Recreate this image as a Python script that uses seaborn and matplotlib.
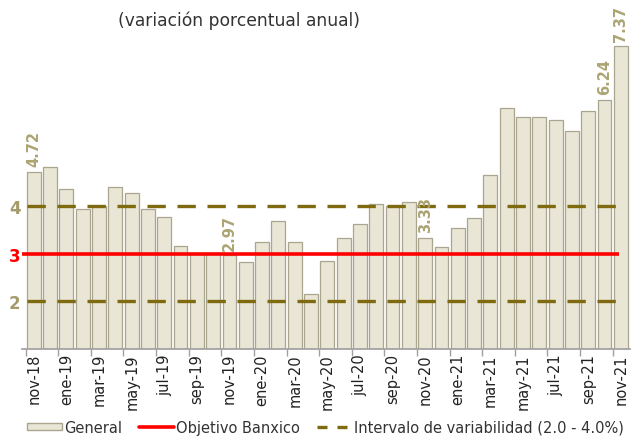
import matplotlib
matplotlib.use("Agg")
import matplotlib.pyplot as plt
import seaborn as sns
import pandas as pd
from matplotlib.lines import Line2D
from matplotlib.patches import Patch

months = ["nov-18","dic-18","ene-19","feb-19","mar-19","abr-19","may-19","jun-19","jul-19","ago-19",
          "sep-19","oct-19","nov-19","dic-19","ene-20","feb-20","mar-20","abr-20","may-20","jun-20",
          "jul-20","ago-20","sep-20","oct-20","nov-20","dic-20","ene-21","feb-21","mar-21","abr-21",
          "may-21","jun-21","jul-21","ago-21","sep-21","oct-21","nov-21"]
general = [4.72,4.83,4.37,3.94,4.00,4.41,4.28,3.95,3.78,3.16,
           3.00,3.02,2.97,2.83,3.24,3.70,3.25,2.15,2.84,3.33,
           3.62,4.05,4.01,4.09,3.33,3.15,3.54,3.76,4.67,6.08,
           5.89,5.88,5.81,5.59,6.00,6.24,7.37]
labeled = ["nov-18","nov-19","nov-20","oct-21","nov-21"]
objetivo = 3.0
intervalo = [2.0, 4.0]

sns.set_theme(style="white")
plt.rcParams['font.family'] = ['DejaVu Sans']

df = pd.DataFrame({"mes": months, "General": general})

fig = plt.figure(figsize=(6.44, 4.39), dpi=100)
ax = fig.add_axes([0.034, 0.203, 0.944, 0.763])

sns.barplot(data=df, x="mes", y="General", ax=ax, color="#e9e6d5", width=0.85,
            edgecolor="#a9a58f", linewidth=0.9, saturation=1)
ax.set_ylim(1, 8.05)
ax.set_xlim(-0.73, 36.55)

ax.hlines(objetivo, -0.73, 35.9, color="#ff0000", linewidth=2.6, zorder=5)
for v in intervalo:
    ax.hlines(v, -0.4, 35.8, color="#7f6a10", linewidth=2.4, linestyles=(0, (5.5, 3.5)), zorder=5)

for m in labeled:
    i = months.index(m)
    ax.text(i, general[i] + 0.12, f"{general[i]:.2f}", rotation=90, ha="center", va="bottom",
            color="#aca473", fontsize=10.5, fontweight="bold", zorder=6)

# axes styling
for s in ["top", "right", "left"]:
    ax.spines[s].set_visible(False)
ax.spines["bottom"].set_color("#a0a0a0")
ax.set_yticks([2, 3, 4])
ax.set_yticklabels(["2", "3", "4"], fontsize=12, fontweight="bold")
for lab, c in zip(ax.get_yticklabels(), ["#a39b6b", "#ff0000", "#a39b6b"]):
    lab.set_color(c)
ax.tick_params(axis="y", length=0, pad=1)
ax.set_ylabel("")
ax.set_xlabel("")
pos = list(range(0, len(months), 2))
ax.set_xticks(pos)
ax.set_xticklabels([months[i] for i in pos], rotation=90, fontsize=10.5, color="#222222")
ax.tick_params(axis="x", length=0, pad=3)
ax.set_xticks([p - 0.5 for p in pos], minor=True)
ax.tick_params(axis="x", which="minor", length=5, color="#a0a0a0", bottom=True)

fig.text(0.183, 0.94, "(variación porcentual anual)", fontsize=12.3, color="#333333")

handles = [Patch(facecolor="#e9e6d5", edgecolor="#a9a58f"),
           Line2D([], [], color="#ff0000", linewidth=2.6),
           Line2D([], [], color="#7f6a10", linewidth=2.4, linestyle=(0, (3, 3)))]
fig.legend(handles, ["General", "Objetivo Banxico", "Intervalo de variabilidad (2.0 - 4.0%)"],
           loc="lower left", bbox_to_anchor=(0.022, -0.022), ncol=3, frameon=False,
           fontsize=10.5, handlelength=2.4, handletextpad=0.1, columnspacing=1.2,
           handleheight=0.35, labelcolor="#333333")

fig.savefig("out.png", dpi=100)
